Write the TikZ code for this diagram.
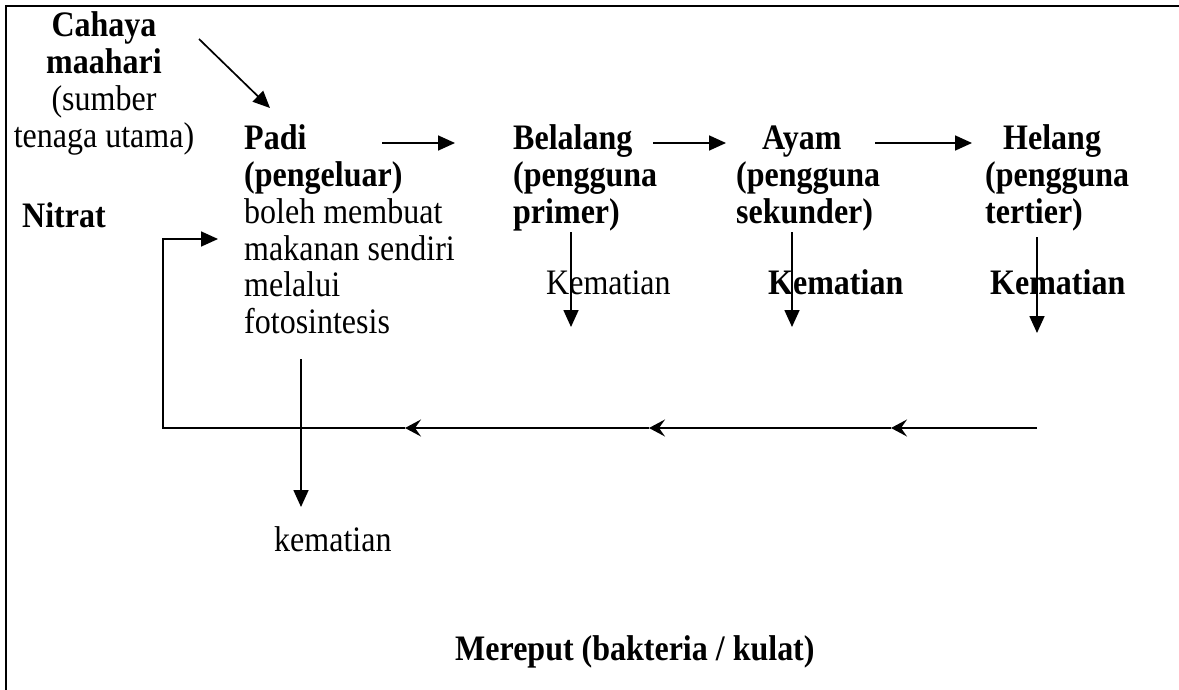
\documentclass[tikz,border=0pt]{standalone}
\usepackage{graphicx}
\usepackage{fontspec}
\setmainfont{Liberation Serif}
\usetikzlibrary{arrows.meta}
\newcommand\vst[1]{\scalebox{1}[1.12]{#1}}
\newcommand\mylines[2][l]{\vst{\begin{tabular}[t]{@{}#1@{}}#2\end{tabular}}}
\begin{document}
\begin{tikzpicture}[x=1pt,y=-1pt,
  txt/.style={inner sep=0pt, anchor=base west, font=\fontsize{32}{32.8}\selectfont},
  ctxt/.style={inner sep=0pt, anchor=base, font=\fontsize{32}{32.8}\selectfont},
  flow/.style={line width=1.7pt, -{Triangle[length=17pt,width=15pt]}},
  back/.style={line width=1.7pt, -{Stealth[length=16pt,width=17pt,inset=6pt]}},
  frame/.style={line width=2.5pt}]
\useasboundingbox (0,0) rectangle (1179,690);
% frame
\draw[frame] (6,690) -- (6,6) -- (1179,6);
% texts
\node[ctxt] (cahaya) at (104,37) {\mylines[c]{\textbf{Cahaya}\\\textbf{maahari}\\(sumber\\tenaga utama)}};
\node[txt] (padi) at (244,150) {\mylines{\textbf{Padi}\\\textbf{(pengeluar)}\\boleh membuat\\makanan sendiri\\melalui\\fotosintesis}};
\node[txt] (belalang) at (513,150) {\mylines{\textbf{Belalang}\\\textbf{(pengguna}\\\textbf{primer)}}};
\node[txt] (ayam) at (736,150) {\mylines{\hspace*{26pt}\textbf{Ayam}\\\textbf{(pengguna}\\\textbf{sekunder)}}};
\node[txt] (helang) at (985,150) {\mylines{\hspace*{18pt}\textbf{Helang}\\\textbf{(pengguna}\\\textbf{tertier)}}};
\node[txt] (nitrat) at (22,228) {\vst{\textbf{Nitrat}}};
\node[txt] (k1) at (546,294) {\vst{Kematian}};
\node[txt] (k2) at (768,294) {\vst{\textbf{Kematian}}};
\node[txt] (k3) at (990,294) {\vst{\textbf{Kematian}}};
\node[txt] (k0) at (274,551) {\vst{kematian}};
\node[txt] (mereput) at (455,660) {\vst{\textbf{Mereput (bakteria / kulat)}}};
% connector end points
\coordinate (sunA) at (199,39);
\coordinate (sunB) at (270,108);
\coordinate (pA) at (382,143);
\coordinate (pB) at (455,143);
\coordinate (bA) at (653,143);
\coordinate (bB) at (726,143);
\coordinate (aA) at (875,143);
\coordinate (aB) at (972,143);
\coordinate (d1A) at (571,232);
\coordinate (d1B) at (571,327);
\coordinate (d2A) at (792,232);
\coordinate (d2B) at (792,327);
\coordinate (d3A) at (1037,237);
\coordinate (d3B) at (1037,333);
\coordinate (d0A) at (301,359);
\coordinate (d0B) at (301,507);
\coordinate (r0) at (1037,428);
\coordinate (r1) at (891,428);
\coordinate (r2) at (649,428);
\coordinate (r3) at (405,428);
\coordinate (rc) at (163,428);
\coordinate (ru) at (163,239);
\coordinate (rt) at (218,239);
% connectors
\draw[flow] (sunA) -- (sunB);
\draw[flow] (pA) -- (pB);
\draw[flow] (bA) -- (bB);
\draw[flow] (aA) -- (aB);
\draw[flow] (d1A) -- (d1B);
\draw[flow] (d2A) -- (d2B);
\draw[flow] (d3A) -- (d3B);
\draw[flow] (d0A) -- (d0B);
\draw[back] (r0) -- (r1);
\draw[back] (r1) -- (r2);
\draw[back] (r2) -- (r3);
\draw[flow] (r3) -- (rc) -- (ru) -- (rt);
\end{tikzpicture}
\end{document}
